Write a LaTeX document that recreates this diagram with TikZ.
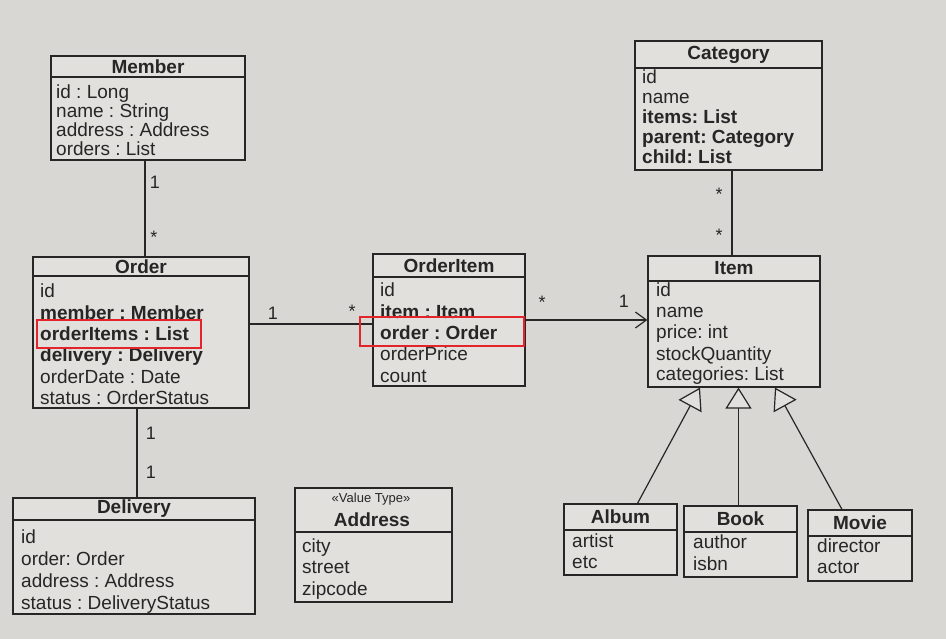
\documentclass[tikz,border=0pt]{standalone}
\usepackage{fontspec}
\setmainfont{Liberation Sans}
\usetikzlibrary{arrows.meta}
\frenchspacing
\definecolor{bg}{HTML}{D8D7D4}
\definecolor{boxfill}{HTML}{E1E0DD}
\definecolor{ink}{HTML}{262626}
\definecolor{markred}{HTML}{E3242B}
\tikzset{
  umlbox/.style={draw=ink, line width=1.2pt, fill=boxfill, inner sep=0},
  umlline/.style={draw=ink, line width=1.2pt},
  titletext/.style={font=\bfseries\fontsize{19}{21}\selectfont, text=ink, inner sep=0},
  stereotext/.style={font=\fontsize{13}{15}\selectfont, text=ink, inner sep=0},
  attrtext/.style={font=\fontsize{19}{21}\selectfont, text=ink, inner sep=0, anchor=base west},
  multlabel/.style={font=\fontsize{18}{20}\selectfont, text=ink, inner sep=0},
  redmark/.style={draw=markred, line width=1.5pt},
  inherit/.style={umlline, -{Triangle[open, width=26pt, length=21pt, fill=boxfill]}},
  navarrow/.style={umlline, -{Straight Barb[length=11pt, width=16pt]}},
}
% box: name, x1, ytop, x2, ydivider, ybottom, title
\newcommand\umlclass[7]{%
  \node[umlbox, minimum width={(#4-#2)*1pt}, minimum height={(#6-#3)*1pt}] (#1) at ({(#2+#4)/2},{(#3+#6)/2}) {};
  \draw[umlline] (#2,#5) -- (#4,#5);
  \node[titletext] (#1-title) at ({(#2+#4)/2},{(#3+#5)/2}) {#7};
}
% rows: name, x, first baseline, skip, rows
\newcommand\umlrows[5]{%
  \foreach \r [count=\i from 0] in {#5}
    \node[attrtext] (#1-\i) at (#2,{#3+\i*#4}) {\r};
}
\begin{document}
\begin{tikzpicture}[x=1pt,y=-1pt]
\useasboundingbox[fill=bg] (0,0) rectangle (946,639);

% Member
\umlclass{member}{51}{56}{245}{77}{160}{Member}
\umlrows{member}{56}{99}{19}{id : Long, name : String, address : Address, orders : List}

% Order
\umlclass{order}{33}{257}{249}{276}{408}{Order}
\umlrows{order}{40}{298}{21.3}{id, \textbf{member : Member}, \textbf{orderItems : List}, \textbf{delivery : Delivery}, orderDate : Date, status : OrderStatus}

% OrderItem
\umlclass{orderitem}{373}{254}{525}{277}{386}{OrderItem}
\umlrows{orderitem}{380}{297}{21.3}{id, \textbf{item : Item}, \textbf{order : Order}, orderPrice, count}

% Category
\umlclass{category}{635}{41}{822}{68}{170}{Category}
\umlrows{category}{642}{84}{20}{id, name, \textbf{items: List}, \textbf{parent: Category}, \textbf{child: List}}

% Item
\umlclass{item}{648}{256}{820}{281}{387}{Item}
\umlrows{item}{656}{297}{21}{id, name, price: int, stockQuantity, categories: List}

% Delivery
\umlclass{delivery}{13}{498}{255}{520}{614}{Delivery}
\umlrows{delivery}{21}{543}{22.3}{id, order: Order, address : Address, status : DeliveryStatus}

% Address (value type)
\node[umlbox, minimum width=157pt, minimum height=114pt] (address) at (373.5,545) {};
\draw[umlline] (295,532) -- (452,532);
\node[stereotext] (address-stereo) at (371,499) {«Value Type»};
\node[titletext] (address-title) at (372,520) {Address};
\umlrows{address}{302}{552}{21.5}{city, street, zipcode}

% Album, Book, Movie
\umlclass{album}{564}{504}{677}{530}{575}{Album}
\umlrows{album}{572}{547}{21}{artist, etc}
\umlclass{book}{684}{506}{797}{532}{577}{Book}
\umlrows{book}{693}{548}{22}{author, isbn}
\umlclass{movie}{808}{510}{912}{536}{581}{Movie}
\umlrows{movie}{817}{552}{21}{director, actor}

% Member -- Order
\draw[umlline] ([xshift=-3pt]member.south) -- ([xshift=-3pt]member.south |- order.north);
\node[multlabel] (m-one) at (155,182) {1};
\node[multlabel] (m-many) at (154,237) {*};

% Order -- OrderItem
\draw[umlline] (order.east |- 0,324) -- (orderitem.west |- 0,324);
\node[multlabel] (o-one) at (273,313) {1};
\node[multlabel] (o-many) at (352,311) {*};

% OrderItem -> Item
\draw[navarrow] (orderitem.east) -- (orderitem.east -| item.west);
\node[multlabel] (oi-many) at (542,302) {*};
\node[multlabel] (oi-one) at (624,301) {1};

% Category -- Item
\draw[umlline] ([xshift=-2pt]item.north) -- ([xshift=-2pt]item.north |- category.south);
\node[multlabel] (c-many1) at (719,194) {*};
\node[multlabel] (c-many2) at (719,235) {*};

% Order -- Delivery
\draw[umlline] ([xshift=-4pt]order.south) -- ([xshift=-4pt]order.south |- delivery.north);
\node[multlabel] (d-one1) at (151,433) {1};
\node[multlabel] (d-one2) at (151,472) {1};

% Inheritance
\draw[inherit] ([xshift=17pt]album.north) -- ([xshift=-34pt]item.south);
\draw[inherit] ([xshift=-2pt]book.north) -- ([xshift=-2pt]book.north |- item.south);
\draw[inherit] ([xshift=-18pt]movie.north) -- ([xshift=41pt]item.south);

% Highlight marks
\draw[redmark] (37,320) rectangle (201,348);
\draw[redmark] (360,317) rectangle (524,346);
\end{tikzpicture}
\end{document}
